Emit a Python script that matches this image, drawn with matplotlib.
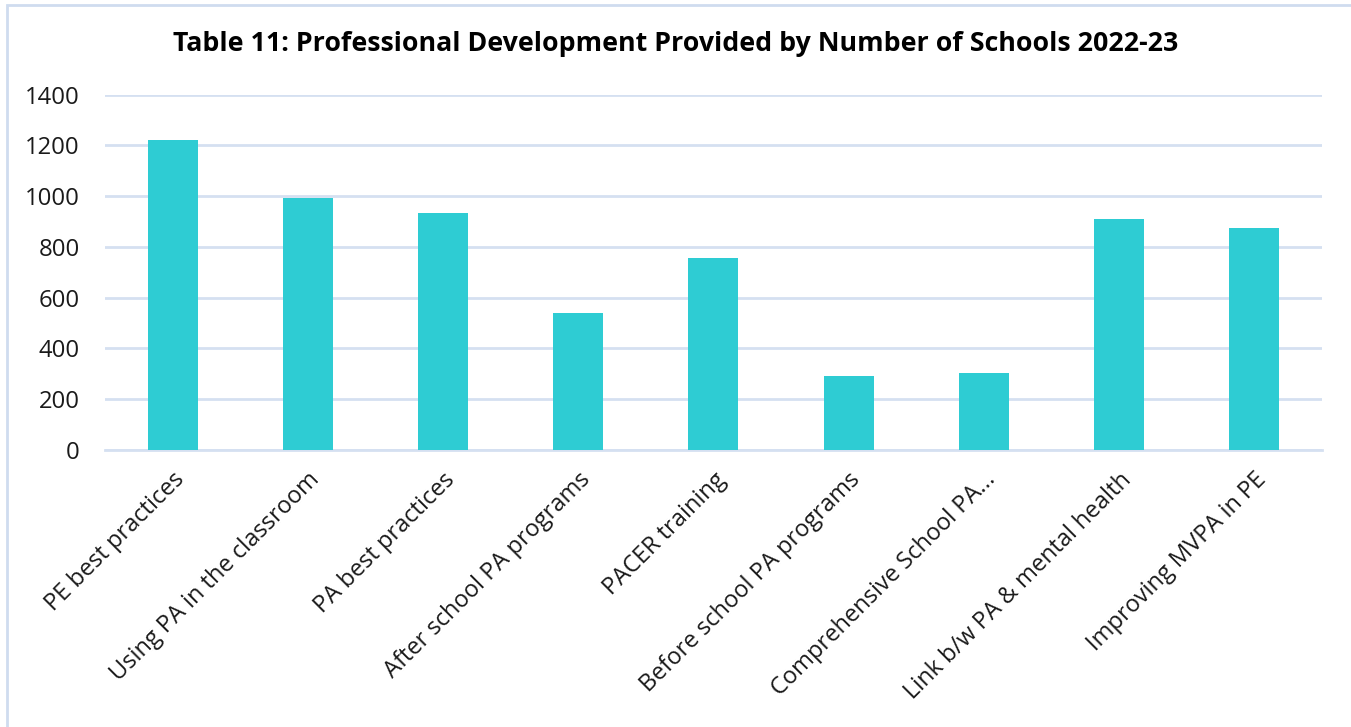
import matplotlib.pyplot as plt
from matplotlib.patches import Rectangle

plt.rcParams["font.family"] = ["Open Sans", "DejaVu Sans"]

categories = [
    "PE best practices",
    "Using PA in the classroom",
    "PA best practices",
    "After school PA programs",
    "PACER training",
    "Before school PA programs",
    "Comprehensive School PA...",
    "Link b/w PA & mental health",
    "Improving MVPA in PE",
]
schools = [1220, 994, 933, 539, 756, 291, 302, 911, 874]
y_ticks = [0, 200, 400, 600, 800, 1000, 1200, 1400]

bar_color = "#2ECCD3"
grid_color = "#D5E0F1"
text_color = "#1A1A1A"

fig = plt.figure(figsize=(13.51, 7.27), dpi=100)
ax = fig.add_axes([0.0777, 0.3814, 0.9008, 0.4883])

x = range(len(categories))
ax.bar(x, schools, width=0.37, color=bar_color, zorder=3)

ax.set_xlim(-0.5, len(categories) - 0.5)
ax.set_ylim(0, 1400)
ax.set_yticks(y_ticks)
ax.set_yticklabels([str(v) for v in y_ticks])
ax.set_xticks(list(x))
ax.set_xticklabels(categories, rotation=45, ha="right", va="top",
                   rotation_mode="anchor")

ax.grid(axis="y", color=grid_color, linewidth=2, zorder=0)
ax.tick_params(axis="y", length=0, pad=18, labelsize=17.2, labelcolor=text_color)
ax.tick_params(axis="x", length=0, pad=13, labelsize=17, labelcolor=text_color)
for side in ["top", "right", "left"]:
    ax.spines[side].set_visible(False)
ax.spines["bottom"].set_color(grid_color)
ax.spines["bottom"].set_linewidth(2)

# chart frame (runs off the right and bottom edges)
fig.patches.append(Rectangle((7 / 1351, -0.1), 1.2, 1 - 5 / 727 + 0.1,
                             transform=fig.transFigure, fill=False,
                             edgecolor="#CFDCEF", linewidth=2))

fig.text(0.5, 1 - 44 / 727,
         "Table 11: Professional Development Provided by Number of Schools 2022-23",
         ha="center", va="center", fontsize=19.3, fontweight="bold", color="black")

fig.savefig("out.png", dpi=100, facecolor="white")
